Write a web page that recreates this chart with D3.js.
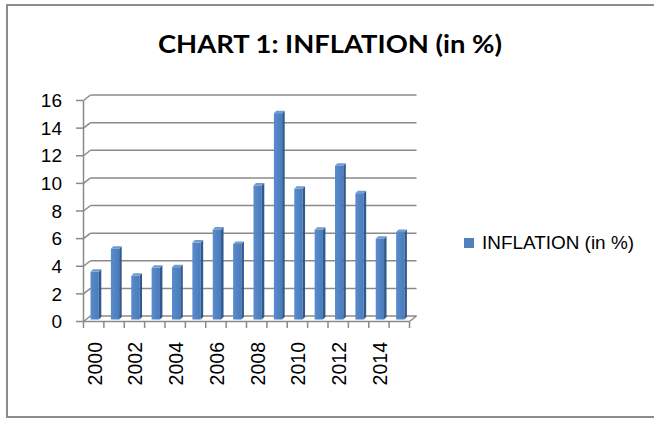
<!DOCTYPE html>
<html>
<head>
<meta charset="utf-8">
<script src="https://cdnjs.cloudflare.com/ajax/libs/d3/7.8.5/d3.min.js"></script>
<style>
  body { margin: 0; background: #fff; }
  svg { display: block; }
</style>
</head>
<body>
<div id="chart"></div>
<script>
// chart data
var years = ['2000', '2001', '2002', '2003', '2004', '2005', '2006', '2007',
  '2008', '2009', '2010', '2011', '2012', '2013', '2014', '2015']
var inflation = [3.45, 5.13, 3.16, 3.74, 3.79, 5.57, 6.52, 5.47,
  9.7, 14.94, 9.46, 6.5, 11.14, 9.14, 5.85, 6.33]
var yTicks = [0, 2, 4, 6, 8, 10, 12, 14, 16]
var xLabels = ['2000', '2002', '2004', '2006', '2008', '2010', '2012', '2014']
var seriesName = 'INFLATION (in %)'

const width = 654
const height = 421

var svg = d3.select('#chart').append('svg')
  .attr('width', width)
  .attr('height', height)

var x = d3.scaleBand().domain(years).range([83.5, 409.5])
var y = d3.scaleLinear().domain([0, 16]).range([321.5, 100.5])

// depth of the 3d box (back wall offset)
var DX = 7
var DY = -5.5
// bar plane inside the box, and bar thickness
var BX = 2.5
var BY = -2
var BD = 2.5

var gridColor = '#8a8a8a'

// outer frame
svg.append('rect')
  .attr('x', 7).attr('y', 5)
  .attr('width', 660).attr('height', 412)
  .attr('fill', 'none')
  .attr('stroke', '#8c8c8c')
  .attr('stroke-width', 2)

// title
svg.append('text')
  .attr('x', 330).attr('y', 53)
  .attr('text-anchor', 'middle')
  .attr('font-family', 'Lato, "Open Sans", sans-serif')
  .attr('font-weight', 'bold')
  .attr('font-size', '25px')
  .attr('textLength', 344)
  .attr('lengthAdjust', 'spacingAndGlyphs')
  .attr('fill', '#000')
  .text('CHART 1: INFLATION (in %)')

var x0 = x.range()[0]
var x1 = x.range()[1]

// back wall gridlines and the little diagonals off the axis
var grid = svg.append('g')
grid.selectAll('.gl')
  .data(yTicks)
  .enter().append('line')
  .attr('x1', x0 + DX).attr('x2', x1 + DX)
  .attr('y1', function (d) { return y(d) + DY })
  .attr('y2', function (d) { return y(d) + DY })
  .attr('stroke', gridColor)
  .attr('stroke-width', 1.5)
grid.selectAll('.dg')
  .data(yTicks)
  .enter().append('line')
  .attr('x1', x0).attr('x2', x0 + DX)
  .attr('y1', function (d) { return y(d) })
  .attr('y2', function (d) { return y(d) + DY })
  .attr('stroke', gridColor)
  .attr('stroke-width', 1.5)

// floor: front edge + right diagonal
svg.append('line')
  .attr('x1', x0).attr('x2', x1)
  .attr('y1', y(0)).attr('y2', y(0))
  .attr('stroke', gridColor).attr('stroke-width', 1.5)
svg.append('line')
  .attr('x1', x1).attr('x2', x1 + DX)
  .attr('y1', y(0)).attr('y2', y(0) + DY)
  .attr('stroke', gridColor).attr('stroke-width', 1.5)

// bars
var defs = svg.append('defs')
var grad = defs.append('linearGradient').attr('id', 'front')
grad.append('stop').attr('offset', '0%').attr('stop-color', '#5a8cce')
grad.append('stop').attr('offset', '100%').attr('stop-color', '#4a7cbb')

var bw = 8.3
var bars = svg.selectAll('.bar')
  .data(years)
  .enter().append('g')
  .attr('class', 'bar')

bars.append('rect')
  .attr('x', function (d) { return x(d) + 4.5 + BX })
  .attr('y', function (d, i) { return y(inflation[i]) + BY })
  .attr('width', bw)
  .attr('height', function (d, i) { return y(0) - y(inflation[i]) })
  .attr('fill', 'url(#front)')

bars.append('path')
  .attr('d', function (d, i) {
    var l = x(d) + 4.5 + BX + bw
    var t = y(inflation[i]) + BY
    var b = y(0) + BY
    return 'M' + l + ',' + t + 'L' + (l + BD) + ',' + (t - BD) +
      'L' + (l + BD) + ',' + (b - BD) + 'L' + l + ',' + b + 'Z'
  })
  .attr('fill', '#2f5a8e')

bars.append('path')
  .attr('d', function (d, i) {
    var l = x(d) + 4.5 + BX
    var t = y(inflation[i]) + BY
    return 'M' + l + ',' + t + 'L' + (l + BD) + ',' + (t - BD) +
      'L' + (l + bw + BD) + ',' + (t - BD) + 'L' + (l + bw) + ',' + t + 'Z'
  })
  .attr('fill', '#6f9ad2')

// y axis (line + ticks on the left)
var yAxis = svg.append('g')
yAxis.append('line')
  .attr('x1', x0).attr('x2', x0)
  .attr('y1', y(16)).attr('y2', y(0))
  .attr('stroke', gridColor).attr('stroke-width', 1.5)
yAxis.selectAll('.tk')
  .data(yTicks)
  .enter().append('line')
  .attr('x1', x0 - 7.5).attr('x2', x0)
  .attr('y1', function (d) { return y(d) })
  .attr('y2', function (d) { return y(d) })
  .attr('stroke', gridColor).attr('stroke-width', 1.5)
yAxis.selectAll('.lb')
  .data(yTicks)
  .enter().append('text')
  .attr('x', 62)
  .attr('y', function (d) { return y(d) })
  .attr('dy', '0.35em')
  .attr('text-anchor', 'end')
  .attr('font-family', '"Liberation Sans", Arial, sans-serif')
  .attr('font-size', '19px')
  .attr('fill', '#000')
  .text(function (d) { return d })

// x ticks at band edges
var edges = years.map(function (d) { return x(d) }).concat([x1])
svg.selectAll('.xt')
  .data(edges)
  .enter().append('line')
  .attr('x1', function (d) { return d })
  .attr('x2', function (d) { return d })
  .attr('y1', y(0)).attr('y2', y(0) + 6.5)
  .attr('stroke', gridColor).attr('stroke-width', 1.5)

// rotated year labels
svg.selectAll('.xl')
  .data(xLabels)
  .enter().append('text')
  .attr('transform', function (d) {
    return 'translate(' + (x(d) + x.bandwidth() / 2 + 1) + ',342) rotate(-90)'
  })
  .attr('dy', '0.35em')
  .attr('text-anchor', 'end')
  .attr('font-family', '"Liberation Sans", Arial, sans-serif')
  .attr('font-size', '19.5px')
  .attr('fill', '#000')
  .text(function (d) { return d })

// legend
var legend = svg.append('g')
legend.append('rect')
  .attr('x', 464).attr('y', 238)
  .attr('width', 10).attr('height', 10)
  .attr('fill', '#4f81bd')
legend.append('text')
  .attr('x', 482).attr('y', 248.5)
  .attr('font-family', '"Liberation Sans", Arial, sans-serif')
  .attr('font-size', '18px')
  .attr('textLength', 152)
  .attr('lengthAdjust', 'spacingAndGlyphs')
  .attr('fill', '#000')
  .text(seriesName)
</script>
</body>
</html>
